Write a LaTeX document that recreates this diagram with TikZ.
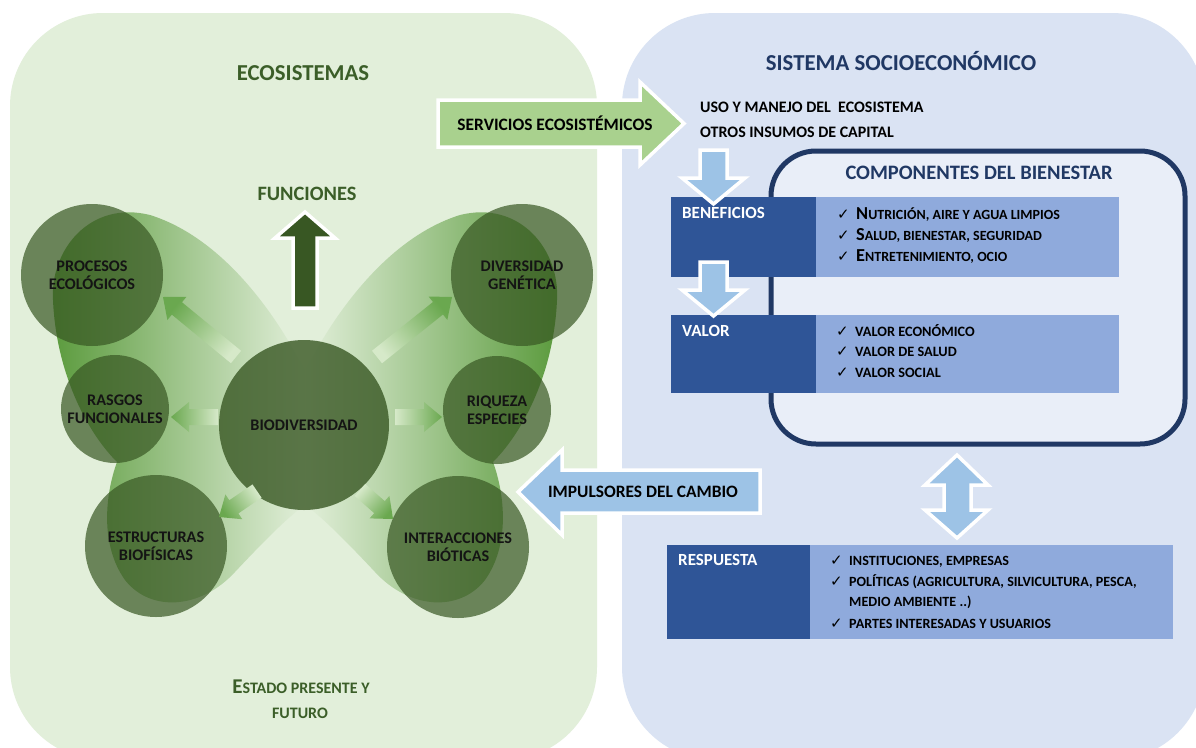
\documentclass[tikz,border=0pt]{standalone}
\usepackage{fontspec}
\setmainfont{Carlito}
\newfontfamily\symfont{DejaVu Sans}
\usetikzlibrary{calc}
\definecolor{greenbg}{HTML}{E2EFDA}
\definecolor{bluebg}{HTML}{DAE3F3}
\definecolor{darkgreen}{HTML}{385723}
\definecolor{titlegreen}{HTML}{3B5E28}
\definecolor{navy}{HTML}{203864}
\definecolor{boxdark}{HTML}{2F5597}
\definecolor{boxlight}{HTML}{8FAADC}
\definecolor{arrowgreen}{HTML}{A9D18E}
\definecolor{arrowblue}{HTML}{9DC3E6}
\definecolor{compfill}{HTML}{E9EEF8}
\definecolor{wingdark}{HTML}{5A9A3C}
\definecolor{wingmid}{HTML}{A9C89A}
\definecolor{smallhead}{HTML}{6AA84F}
\definecolor{smalltail}{HTML}{D6E9C9}
\definecolor{labelblack}{HTML}{141414}
\newcommand{\chk}{\makebox[19pt][l]{\symfont\fontsize{15}{15}\selectfont ✓}}
\newcommand{\gradarrow}[3]{%
  \coordinate (gh) at ($(#2)!18pt!(#1)$);
  \shade[top color=smallhead, bottom color=smalltail, shading angle=#3]
    ($(#1)!8pt!90:(#2)$) -- ($(gh)!8pt!90:(#2)$) -- ($(gh)!15pt!90:(#2)$) -- (#2)
    -- ($(gh)!15pt!-90:(#2)$) -- ($(gh)!8pt!-90:(#2)$) -- ($(#1)!8pt!-90:(#2)$) -- cycle;
}
\begin{document}
\begin{tikzpicture}[x=1pt,y=-1pt,
  every node/.style={font=\bfseries},
  circ/.style={circle, fill=darkgreen, fill opacity=0.7, text opacity=1, inner sep=0pt,
    align=center, text=labelblack, font=\bfseries\fontsize{16.2}{18.4}\selectfont},
  blockarrow/.style={draw=white, line width=3.5pt, line join=miter},
  title/.style={anchor=base, inner sep=0pt, font=\bfseries\fontsize{22.8}{26}\selectfont},
  item/.style={anchor=base west, inner sep=0pt, text=black, font=\bfseries\fontsize{14.3}{16}\selectfont},
  ritem/.style={anchor=base west, inner sep=0pt, text=black, font=\bfseries\fontsize{14.1}{16}\selectfont},
  boxlabel/.style={anchor=base west, inner sep=0pt, text=white, font=\bfseries\fontsize{17}{19}\selectfont},
  plain/.style={anchor=base, inner sep=0pt, text=black, font=\bfseries\fontsize{17.4}{20}\selectfont},
  panelbox/.style={rounded corners=93pt},
  darkbox/.style={fill=boxdark, anchor=north west, inner sep=0pt},
  lightbox/.style={fill=boxlight, anchor=north west, inner sep=0pt}
]
\useasboundingbox (0,0) rectangle (1196,747);
\clip (0,0) rectangle (1196,747);
\fill[white] (0,0) rectangle (1196,747);
% panels
\fill[greenbg, panelbox] (10,13) rectangle (597,760);
\fill[bluebg, panelbox] (622,13) rectangle (1205,760);

% titles
\node[title, text=titlegreen] (ecotitle) at (303,80) {ECOSISTEMAS};
\node[title, text=navy] (sistitle) at (901,70.5) {SISTEMA SOCIOECONÓMICO};
\node[title, text=titlegreen, font=\bfseries\fontsize{20.4}{24}\selectfont] (functitle) at (307,200) {FUNCIONES};

% wings
\shade[left color=wingdark, middle color=wingmid, right color=greenbg]
 (305,372) .. controls (285,330) and (230,240) .. (150,215)
 .. controls (90,200) and (50,250) .. (53,300)
 .. controls (56,370) and (85,430) .. (117,462)
 .. controls (105,495) and (100,545) .. (125,580)
 .. controls (150,612) and (200,610) .. (235,572)
 .. controls (265,540) and (290,515) .. (305,505) -- cycle;
\shade[left color=greenbg, middle color=wingmid, right color=wingdark]
 (305,372) .. controls (325,330) and (380,240) .. (460,215)
 .. controls (520,200) and (560,250) .. (557,300)
 .. controls (554,370) and (525,430) .. (493,462)
 .. controls (505,495) and (510,545) .. (485,580)
 .. controls (460,612) and (410,610) .. (375,572)
 .. controls (345,540) and (320,515) .. (305,505) -- cycle;

% up arrow FUNCIONES
\draw[blockarrow, fill=darkgreen] (293,308) -- (317,308) -- (317,238) -- (335,238) -- (305,212) -- (275,238) -- (293,238) -- cycle;

% circles
\node[circ, minimum size=142] (proc) at (92,275) {PROCESOS\\ECOLÓGICOS};
\node[circ, minimum size=108] (rasg) at (115,409) {RASGOS\\FUNCIONALES};
\node[circ, minimum size=142] (estr) at (156,546) {ESTRUCTURAS\\BIOFÍSICAS};
\node[circ, minimum size=170, fill opacity=0.8] (bio) at (304,425) {BIODIVERSIDAD};
\node[circ, minimum size=142] (dive) at (522,275) {DIVERSIDAD\\GENÉTICA};
\node[circ, minimum size=108] (riq) at (497,410) {RIQUEZA\\ESPECIES};
\node[circ, minimum size=142] (inter) at (458,547) {INTERACCIONES\\BIÓTICAS};

% small gradient arrows
\coordinate (t1) at (236,357); \coordinate (p1) at (163,297);
\coordinate (t2) at (218,417); \coordinate (p2) at (171,417);
\coordinate (t3) at (257,491); \coordinate (p3) at (219,517);
\coordinate (t4) at (377,357); \coordinate (p4) at (452,297);
\coordinate (t5) at (395,417); \coordinate (p5) at (442,417);
\coordinate (t6) at (360,490); \coordinate (p6) at (393,519);
\gradarrow{t1}{p1}{51}
\gradarrow{t2}{p2}{90}
\gradarrow{t3}{p3}{124}
\gradarrow{t4}{p4}{-51}
\gradarrow{t5}{p5}{-90}
\gradarrow{t6}{p6}{-131}

% estado presente y futuro
\node[anchor=base, inner sep=0pt, text=titlegreen] (estado1) at (301,693)
  {{\fontsize{21}{23}\selectfont E}{\fontsize{16}{18}\selectfont STADO PRESENTE Y}};
\node[anchor=base, inner sep=0pt, text=titlegreen] (estado2) at (300,718)
  {\fontsize{16}{18}\selectfont FUTURO};

% right panel texts
\node[anchor=base west, inner sep=0pt, text=black, font=\bfseries\fontsize{16}{18}\selectfont] (uso) at (700,112.5) {USO Y MANEJO DEL\ \ ECOSISTEMA};
\node[anchor=base west, inner sep=0pt, text=black, font=\bfseries\fontsize{16}{18}\selectfont] (otros) at (700,137.5) {OTROS INSUMOS DE CAPITAL};

% components box
\draw[navy, line width=5pt, fill=compfill, rounded corners=45pt] (771,151) rectangle (1185,444);
\node[title, text=navy, font=\bfseries\fontsize{20.5}{24}\selectfont] (comptitle) at (979,179) {COMPONENTES DEL BIENESTAR};

% boxes
\node[darkbox, minimum width=145, minimum height=80] (benef) at (671,197) {};
\node[lightbox, minimum width=303, minimum height=80] (beneflist) at (816,197) {};
\node[darkbox, minimum width=145, minimum height=78] (valor) at (671,315) {};
\node[lightbox, minimum width=303, minimum height=78] (valorlist) at (816,315) {};
\node[darkbox, minimum width=143, minimum height=94] (resp) at (667,545) {};
\node[lightbox, minimum width=363, minimum height=94] (resplist) at (810,545) {};

\node[boxlabel] (beneflab) at (682,218) {BENEFICIOS};
\node[boxlabel] (valorlab) at (682,336) {VALOR};
\node[boxlabel] (resplab) at (678,565) {RESPUESTA};

\node[item] (b1) at (837,219) {\chk{\fontsize{18.3}{18}\selectfont N}{\fontsize{14}{16}\selectfont UTRICIÓN, AIRE Y AGUA LIMPIOS}};
\node[item] (b2) at (837,240) {\chk{\fontsize{18.3}{18}\selectfont S}{\fontsize{14}{16}\selectfont ALUD, BIENESTAR, SEGURIDAD}};
\node[item] (b3) at (837,261) {\chk{\fontsize{18.3}{18}\selectfont E}{\fontsize{14}{16}\selectfont NTRETENIMIENTO, OCIO}};

\node[item] (v1) at (836,336) {\chk VALOR ECONÓMICO};
\node[item] (v2) at (836,356.5) {\chk VALOR DE SALUD};
\node[item] (v3) at (836,377) {\chk VALOR SOCIAL};

\node[ritem] (r1) at (830,565) {\chk INSTITUCIONES, EMPRESAS};
\node[ritem] (r2) at (830,586) {\chk POLÍTICAS (AGRICULTURA,\ SILVICULTURA, PESCA,};
\node[ritem] (r2b) at (849,606.5) {MEDIO AMBIENTE ..)};
\node[ritem] (r3) at (830,628) {\chk PARTES INTERESADAS Y USUARIOS};

% blue down arrows
\draw[blockarrow, fill=arrowblue] (700,150) -- (727,150) -- (727,178) -- (745,178) -- (713.5,204) -- (682,178) -- (700,178) -- cycle;
\draw[blockarrow, fill=arrowblue] (700,262) -- (727,262) -- (727,290) -- (745,290) -- (713.5,316) -- (682,290) -- (700,290) -- cycle;
% double arrow
\draw[blockarrow, fill=arrowblue] (957,455) -- (988,485) -- (971,485) -- (971,510) -- (988,510) -- (957,538) -- (925,510) -- (944,510) -- (944,485) -- (925,485) -- cycle;

% servicios arrow
\draw[blockarrow, fill=arrowgreen] (438,100) -- (640,100) -- (640,82) -- (684,123.5) -- (640,165) -- (640,147) -- (438,147) -- cycle;
\node[plain] (servtxt) at (555,130) {SERVICIOS ECOSISTÉMICOS};

% impulsores arrow
\draw[blockarrow, fill=arrowblue] (760,470) -- (562,470) -- (562,450) -- (518,492) -- (562,535) -- (562,513) -- (760,513) -- cycle;
\node[plain] (imptxt) at (643,497) {IMPULSORES DEL CAMBIO};
\end{tikzpicture}
\end{document}
